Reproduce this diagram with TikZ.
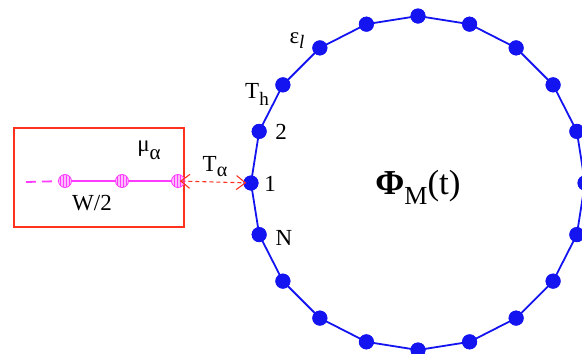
\documentclass[tikz,border=0pt]{standalone}
\usepackage{fontspec}
\setmainfont{Liberation Serif}
\usetikzlibrary{calc,patterns,arrows.meta}
\definecolor{dotblue}{RGB}{20,20,240}
\definecolor{boxred}{RGB}{255,50,30}
\definecolor{mag}{RGB}{255,60,255}
\newcommand\lowsub[2]{\raisebox{-#1}{#2}}
\tikzset{
  dot/.style={circle,fill=dotblue,inner sep=0pt,minimum size=15pt},
  ring/.style={dotblue,line width=1.8pt},
  hcirc/.style={circle,draw=mag,line width=0.8pt,preaction={fill=mag!35},pattern=vertical lines,pattern color=mag,inner sep=0pt,minimum size=13pt},
  lbl/.style={font=\fontsize{23}{23}\selectfont,inner sep=0pt},
}
\begin{document}
\begin{tikzpicture}[x=1pt,y=-1pt]
\useasboundingbox (0,0) rectangle (582,354);
\clip (0,0) rectangle (582,354);
% ring of dots
\foreach \i in {0,...,19}
  \node[dot] (d\i) at ($(418,183)+({180-18*\i}:167)$) {};
\foreach \i in {0,...,19}{
  \pgfmathtruncatemacro{\j}{mod(\i+1,20)}
  \draw[ring] (d\i.center) -- (d\j.center);
}
\foreach \i in {0,...,19}
  \node[dot] at (d\i) {};
% labels on ring
\node[lbl] (l1) at (270,184) {1};
\node[lbl] (l2) at (281,132) {2};
\node[lbl] (lth) at (257,94) {T\lowsub{7pt}{\fontsize{19}{19}\selectfont h}};
\node[lbl] (leps) at (297,41) {ε\lowsub{5pt}{\fontsize{19}{19}\selectfont\itshape l}};
\node[lbl] (lN) at (284,238) {N};
\node[font=\fontsize{35}{35}\selectfont,inner sep=0pt] (phi) at (418,187) {\textbf{Φ}\lowsub{10pt}{\fontsize{26}{26}\selectfont M}(t)};
% red box
\node[draw=boxred,line width=2.8pt,minimum width=170pt,minimum height=99pt,inner sep=0pt] (box) at (99,177.5) {};
\node[lbl] (mu) at (149,150) {μ\lowsub{8pt}{\fontsize{21}{21}\selectfont α}};
\node[lbl] (w2) at (92,203) {W/2};
% magenta chain
\node[hcirc] (c1) at (65,181) {};
\node[hcirc] (c2) at (122,181) {};
\node[hcirc] (c3) at (178,181) {};
\coordinate (cl) at (26,182);
\draw[mag,line width=1.8pt,dashed,dash pattern=on 10pt off 6pt] (cl) -- (c1);
\draw[mag,line width=1.8pt] (c1) -- (c2) -- (c3);
% coupling arrow
\draw[boxred,line width=1.1pt,dashed,dash pattern=on 4pt off 3pt,
  {Straight Barb[length=9pt,width=14pt]}-{Straight Barb[length=9pt,width=14pt]},
  shorten <=-5pt, shorten >=-3pt] (c3) -- (d0);
\node[lbl] (ta) at (215,167) {T\lowsub{5pt}{\fontsize{20}{20}\selectfont α}};
\end{tikzpicture}
\end{document}
